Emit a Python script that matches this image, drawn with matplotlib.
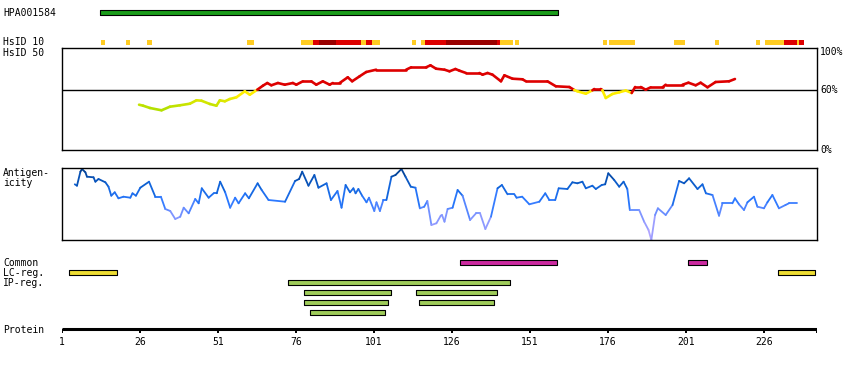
import numpy as np
import matplotlib
matplotlib.use("Agg")
import matplotlib.pyplot as plt
from matplotlib.collections import LineCollection
from matplotlib.colors import LinearSegmentedColormap, Normalize

# ------------------------------------------------------------------------------
# Data (positions in residues, protein length 242)
# ------------------------------------------------------------------------------
protein_length = 242
tick_residues = [1, 26, 51, 76, 101, 126, 151, 176, 201, 226]

antibody_name = "HPA001584"
antibody_range = (13.2, 159.9)

# HsID 10 strip: (start, end, level) level 1 = orange, 2 = red, 3 = dark red
hsid10_segments = [
    (13.5, 14.7, 1), (21.5, 22.7, 1), (28.2, 29.7, 1), (60.2, 62.7, 1),
    (77.5, 81.3, 1), (81.3, 83.3, 2), (83.3, 88.7, 3), (88.7, 96.7, 2),
    (96.7, 98.3, 1), (98.3, 100.5, 2), (100.5, 102.8, 1), (113.3, 114.6, 1),
    (116.2, 117.5, 1), (117.5, 124.2, 2), (124.2, 140.5, 3), (140.5, 141.5, 2),
    (141.5, 145.6, 1), (146.3, 147.6, 1), (174.5, 175.8, 1), (176.4, 184.7, 1),
    (197.2, 200.7, 1), (210.3, 211.6, 1), (223.4, 224.7, 1), (226.3, 232.4, 1),
    (232.4, 236.6, 2), (236.6, 237.2, 1), (237.2, 238.8, 2),
]

# HsID 50 identity curve (%)
hsid50_res = [
    25.7, 27.0, 29.2, 32.9, 35.6, 38.8, 42.0, 44.1, 45.7, 48.4, 50.5, 51.6,
    53.2, 54.8, 56.9, 59.6, 61.2, 63.6, 65.4, 66.8, 68.1, 70.2, 72.4, 75.0,
    76.1, 78.2, 80.9, 82.5, 84.6, 86.8, 87.8, 90.0, 92.6, 94.0, 96.4, 98.5,
    101.7, 111.3, 112.9, 117.7, 119.1, 120.9, 123.6, 125.2, 127.1, 128.4,
    130.5, 134.8, 135.8, 137.4, 139.0, 141.7, 142.8, 145.4, 148.6, 149.7,
    156.6, 159.3, 163.6, 165.2, 166.2, 168.9, 171.0, 171.6, 173.7, 174.2,
    175.3, 177.4, 179.6, 181.7, 183.6, 184.7, 186.5, 188.1, 189.7, 193.5,
    194.5, 199.9, 201.8, 204.1, 205.7, 207.9, 210.5, 214.8, 216.7,
]
hsid50_pct = [
    45.3, 44.3, 42.0, 39.7, 43.3, 44.7, 46.3, 49.7, 49.3, 46.0, 44.3, 49.7,
    48.7, 51.0, 52.7, 58.7, 55.3, 60.3, 64.3, 67.0, 64.7, 67.0, 65.3, 67.0,
    65.3, 68.7, 68.7, 65.3, 68.7, 65.3, 67.0, 67.0, 72.7, 68.7, 73.7, 78.0,
    80.3, 80.3, 82.7, 82.7, 84.7, 81.3, 80.3, 78.7, 81.0, 79.3,
    77.0, 77.0, 75.3, 77.0, 75.3, 68.7, 74.7, 71.3, 70.7, 68.7,
    68.7, 63.7, 63.0, 60.0, 58.7, 56.3, 59.7, 61.0, 61.0, 59.7,
    52.0, 56.0, 57.7, 59.5, 57.0, 63.0, 63.0, 60.3, 62.7, 62.7,
    65.3, 65.3, 67.3, 64.7, 67.3, 62.7, 68.0, 68.7, 71.0,
]

# Antigenicity profile (arbitrary units, 0-72)
antigen_res = [
    5.1, 5.8, 6.9, 7.4, 8.5, 9.0, 11.1, 11.7, 12.7, 14.9, 15.9, 16.8, 17.9,
    19.1, 20.7, 22.9, 23.6, 24.7, 26.1, 28.9, 30.9, 32.7, 34.1, 35.7, 37.3,
    38.9, 40.0, 41.6, 43.7, 44.8, 45.8, 48.0, 49.6, 50.6, 51.7, 53.3, 54.9,
    56.5, 57.6, 59.7, 60.9, 63.7, 65.0, 67.2, 72.5, 75.7, 77.0, 78.0, 80.0,
    81.9, 83.2, 85.8, 87.2, 89.3, 90.6, 91.9, 93.3, 94.4, 95.1, 96.0, 97.2,
    98.6, 99.4, 101.1, 101.8, 102.9, 104.0, 105.0, 106.6, 107.9, 109.8, 111.1,
    112.8, 114.3, 115.7, 117.1, 118.1, 119.4, 121.0, 122.4, 122.8, 123.6,
    124.6, 126.2, 127.8, 129.4, 131.8, 133.7, 135.0, 136.7, 138.5, 140.6,
    142.0, 143.8, 146.0, 146.7, 148.5, 150.8, 154.0, 155.9, 157.2, 159.1,
    160.2, 163.0, 164.6, 166.2, 167.8, 168.9, 171.0, 172.1, 174.0, 175.1,
    176.1, 178.0, 179.6, 181.0, 182.2, 183.0, 186.0, 187.6, 189.0, 189.9,
    191.1, 192.0, 194.5, 196.7, 198.8, 200.4, 202.0, 204.7, 206.3, 207.4,
    209.5, 211.6, 212.7, 215.9, 216.7, 218.0, 219.6, 220.7, 222.8, 223.9,
    226.0, 227.1, 228.7, 230.8, 232.9, 234.0, 236.7,
]
antigen_val = [
    55.7, 54.3, 68.3, 71.0, 67.7, 63.3, 62.7, 58.3, 61.0, 57.7, 53.3, 44.3, 47.7,
    41.7, 43.3, 42.3, 46.7, 44.3, 52.3, 58.3, 43.3, 43.3, 31.0, 29.0, 21.0,
    23.3, 32.3, 26.7, 41.0, 36.7, 51.7, 42.3, 46.7, 46.7, 58.3, 47.7, 32.3,
    42.3, 36.7, 46.7, 41.7, 56.7, 50.0, 40.0, 38.3, 59.0, 61.0, 68.3, 54.3,
    65.0, 52.3, 56.7, 40.0, 49.0, 32.3, 55.0, 47.7, 51.7, 46.7, 51.0, 44.3,
    37.7, 42.3, 29.0, 37.7, 29.0, 40.0, 40.0, 63.3, 65.0, 71.0, 63.3,
    53.3, 52.3, 31.7, 33.3, 39.0, 15.0, 16.7, 24.3, 25.0, 18.3,
    31.0, 32.3, 50.0, 44.3, 20.0, 26.7, 26.7, 11.0, 23.3, 51.7,
    55.0, 45.7, 45.7, 42.3, 43.3, 35.7, 38.3, 46.7, 40.0, 40.0,
    51.7, 51.0, 57.7, 56.7, 58.3, 51.7, 54.3, 51.0, 55.0, 55.7,
    66.7, 60.0, 53.3, 58.3, 51.0, 30.0, 30.0, 18.3, 10.0, 0.0,
    25.0, 31.7, 25.0, 35.0, 59.0, 56.7, 61.7, 51.0, 55.7, 46.7,
    45.0, 24.3, 36.7, 36.7, 41.7, 35.7, 30.0, 37.7, 43.3, 33.3,
    31.7, 37.7, 45.0, 31.7, 35.0, 36.7, 36.7,
]

# Feature tracks
common_regions = [(128.5, 159.7), (201.5, 207.7)]
lc_regions = [(3.3, 18.5), (230.6, 242.5)]
ip_rows = [
    [(73.4, 144.6)],
    [(78.5, 106.5), (114.4, 140.5)],
    [(78.5, 105.6), (115.4, 139.5)],
    [(80.5, 104.6)],
]

# ------------------------------------------------------------------------------
# Layout helpers (pixel boxes -> figure fractions)
# ------------------------------------------------------------------------------
W, H = 850, 370
X0, X1 = 62, 817
fig = plt.figure(figsize=(W / 100, H / 100), dpi=100)
FONT = dict(family="DejaVu Sans Mono", fontsize=7, color="black")


def add_box(top, bottom):
    return fig.add_axes([X0 / W, 1 - bottom / H, (X1 - X0) / W, (bottom - top) / H])


def label(x, y, s, **kw):
    fig.text(x / W, 1 - y / H, s, va="center", **FONT, **kw)


xlim = (1, protein_length + 1)

# track axes for bars, strip and protein ruler (y in pixel rows)
ax_t = add_box(0, H)
ax_t.set_xlim(*xlim)
ax_t.set_ylim(H, 0)
ax_t.axis("off")

# antibody bar
ax_t.broken_barh([(antibody_range[0], antibody_range[1] - antibody_range[0])],
                 (10, 4.7), facecolors="#1a9c1a", edgecolors="black", linewidths=0.8)

# HsID 10 strip
level_colors = {1: "#ffcc22", 2: "#dd0000", 3: "#990000"}
for s, e, lev in hsid10_segments:
    ax_t.broken_barh([(s, e - s)], (40, 4.7), facecolors=level_colors[lev], linewidths=0)

# feature bars
ax_t.broken_barh([(s, e - s) for s, e in common_regions], (260.3, 4.4),
                 facecolors="#cc2aa0", edgecolors="black", linewidths=0.8)
ax_t.broken_barh([(s, e - s) for s, e in lc_regions], (270.3, 4.4),
                 facecolors="#eedd33", edgecolors="black", linewidths=0.8)
for i, row in enumerate(ip_rows):
    ax_t.broken_barh([(s, e - s) for s, e in row], (280.3 + 10 * i, 4.4),
                     facecolors="#9fcc5a", edgecolors="black", linewidths=0.8)

# protein ruler
ax_t.plot(xlim, [329.3, 329.3], color="black", lw=2.2, solid_capstyle="butt")
for r in tick_residues + [protein_length + 1]:
    ax_t.plot([r, r], [329.3, 333.3], color="black", lw=1.4, solid_capstyle="butt")
for r in tick_residues:
    ax_t.text(r, 341.7, str(r), ha="center", va="center", **FONT)

# ------------------------------------------------------------------------------
# HsID 50 panel
# ------------------------------------------------------------------------------
ax_h = add_box(48, 150)
ax_h.set_xlim(*xlim)
ax_h.set_ylim(0, 102)
ax_h.set_xticks([])
ax_h.set_yticks([])
for sp in ax_h.spines.values():
    sp.set_linewidth(1.0)
ax_h.axhline(60, color="black", lw=1.0)

hx = np.array(hsid50_res)
hy = np.array(hsid50_pct)
pts = np.column_stack([hx, hy]).reshape(-1, 1, 2)
segs = np.concatenate([pts[:-1], pts[1:]], axis=1)
mid = (hy[:-1] + hy[1:]) / 2
low_cmap = LinearSegmentedColormap.from_list("low", ["#b4e000", "#ffee00"])
low_norm = Normalize(42, 56)
hcols = [("#dd0000" if m >= 60 else low_cmap(low_norm(m))) for m in mid]
ax_h.add_collection(LineCollection(segs, colors=hcols, linewidths=1.9, capstyle="round"))

# ------------------------------------------------------------------------------
# Antigenicity panel
# ------------------------------------------------------------------------------
ax_a = add_box(168, 240)
ax_a.set_xlim(*xlim)
ax_a.set_ylim(0, 72)
ax_a.set_xticks([])
ax_a.set_yticks([])
for sp in ax_a.spines.values():
    sp.set_linewidth(1.0)

ax_x = np.array(antigen_res)
ax_v = np.array(antigen_val)
pts = np.column_stack([ax_x, ax_v]).reshape(-1, 1, 2)
segs = np.concatenate([pts[:-1], pts[1:]], axis=1)
mid = (ax_v[:-1] + ax_v[1:]) / 2
ag_cmap = LinearSegmentedColormap.from_list(
    "ag", [(0.0, "#bba8ff"), (0.35, "#7d94ff"), (0.55, "#2a78ff"),
           (0.75, "#0e62d6"), (1.0, "#003a88")])
ax_a.add_collection(LineCollection(segs, colors=ag_cmap(mid / 72), linewidths=1.3,
                                   capstyle="round"))

# ------------------------------------------------------------------------------
# Text labels
# ------------------------------------------------------------------------------
label(3, 12.7, antibody_name)
label(3, 42.3, "HsID 10")
label(3, 52.5, "HsID 50")
label(3, 172.7, "Antigen-")
label(3, 183.3, "icity")
label(3, 262.7, "Common")
label(3, 272.7, "LC-reg.")
label(3, 282.7, "IP-reg.")
label(3, 329.7, "Protein")
label(820, 52.3, "100%")
label(820, 90.3, "60%")
label(820, 150.3, "0%")

fig.savefig("out.png", dpi=100, facecolor="white")
